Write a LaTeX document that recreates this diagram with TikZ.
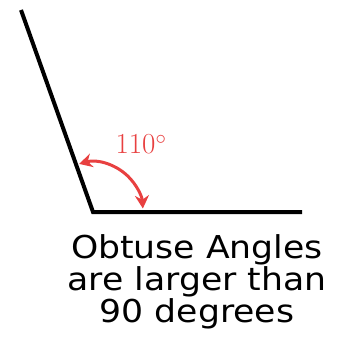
\documentclass[tikz,border=0pt]{standalone}
\usepackage{fontspec}
\newfontfamily\captionfont{DejaVu Sans}
\usetikzlibrary{arrows.meta}
\definecolor{anglered}{RGB}{232,64,64}

\begin{document}
\begin{tikzpicture}[x=1pt, y=1pt]
    \useasboundingbox (0,0) rectangle (343,341);

    % Angle arms
    \coordinate (O) at (93,129);
    \coordinate (A) at (21,331);
    \coordinate (B) at (302,129);
    \draw[line width=4pt, line cap=butt] (A) -- (O) -- (B);

    % Angle arc with measure
    \draw[anglered, line width=3pt, {Stealth[length=13pt,width=14pt]}-{Stealth[length=13pt,width=14pt]}]
        ([shift={(106:50)}]O) arc (106:4:50);
    \node[anglered, font=\fontsize{29}{29}\selectfont] (deg) at (141,197) {110$^\circ$};

    % Caption
    \node[font=\captionfont\fontsize{31.5}{32}\selectfont, align=center, xscale=1.1,
          anchor=base, inner sep=0pt] (cap) at (197,19)
        {Obtuse Angles\\are larger than\\90 degrees};
\end{tikzpicture}
\end{document}
